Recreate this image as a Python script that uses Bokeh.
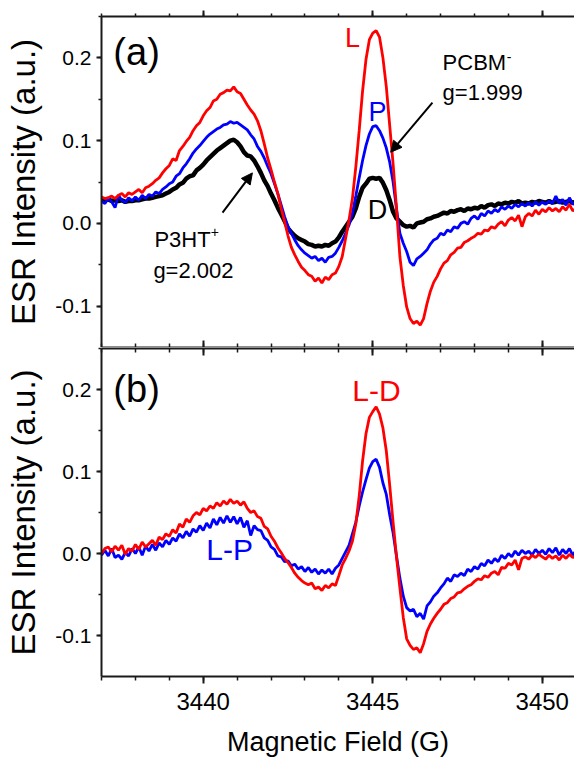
import numpy as np
from bokeh.plotting import figure
from bokeh.models import (Range1d, LinearAxis, SingleIntervalTicker, NumeralTickFormatter,
                          Label, Arrow, NormalHead)
from bokeh.layouts import column
from bokeh.embed import file_html
from bokeh.resources import INLINE

# ---------------- data ----------------
# magnetic field grid, 3437.0 ... 3451.0 G in 0.1 G steps
field = np.round(np.linspace(3437.0, 3451.0, 141), 1)

# panel (a): L (red), P (blue), D (black)
sig_L = [
    0.032, 0.030, 0.031, 0.033, 0.030, 0.034, 0.036, 0.032, 0.037, 0.035,
    0.038, 0.041, 0.037, 0.043, 0.045, 0.048, 0.052, 0.055, 0.061, 0.066,
    0.070, 0.078, 0.076, 0.088, 0.093, 0.099, 0.104, 0.112, 0.118, 0.122,
    0.130, 0.136, 0.140, 0.148, 0.150, 0.156, 0.158, 0.161, 0.160, 0.165,
    0.159, 0.157, 0.150, 0.143, 0.137, 0.132, 0.124, 0.112, 0.096, 0.079,
    0.065, 0.050, 0.036, 0.018, 0.002, -0.015, -0.029, -0.038, -0.046, -0.053,
    -0.057, -0.062, -0.064, -0.070, -0.066, -0.072, -0.065, -0.068, -0.062, -0.060,
    -0.052, -0.040, -0.018, 0.004, 0.030, 0.068, 0.112, 0.160, 0.198, 0.222,
    0.230, 0.233, 0.225, 0.200, 0.165, 0.118, 0.072, 0.018, -0.040, -0.075,
    -0.101, -0.115, -0.121, -0.118, -0.123, -0.115, -0.097, -0.082, -0.071, -0.064,
    -0.055, -0.048, -0.045, -0.038, -0.035, -0.030, -0.029, -0.023, -0.021, -0.018,
    -0.016, -0.012, -0.013, -0.008, -0.009, -0.004, -0.006, -0.001, 0.002, -0.003,
    0.004, 0.007, 0.003, 0.010, -0.004, 0.008, 0.012, 0.009, 0.016, 0.011,
    0.017, 0.014, 0.019, 0.015, 0.018, 0.014, 0.020, 0.016, 0.023, 0.015,
    0.018,
]
sig_P = [
    0.027, 0.024, 0.030, 0.026, 0.019, 0.034, 0.028, 0.025, 0.031, 0.027,
    0.032, 0.028, 0.034, 0.030, 0.035, 0.033, 0.038, 0.036, 0.041, 0.044,
    0.048, 0.050, 0.057, 0.060, 0.067, 0.072, 0.078, 0.085, 0.090, 0.094,
    0.099, 0.104, 0.108, 0.111, 0.114, 0.116, 0.119, 0.120, 0.123, 0.121,
    0.122, 0.119, 0.116, 0.113, 0.107, 0.102, 0.093, 0.087, 0.079, 0.069,
    0.060, 0.048, 0.036, 0.022, 0.008, -0.004, -0.012, -0.020, -0.027, -0.032,
    -0.036, -0.039, -0.042, -0.040, -0.045, -0.042, -0.047, -0.041, -0.040, -0.036,
    -0.029, -0.021, -0.012, -0.002, 0.012, 0.033, 0.055, 0.076, 0.094, 0.108,
    0.117, 0.118, 0.112, 0.103, 0.091, 0.074, 0.050, 0.018, -0.012, -0.024,
    -0.034, -0.047, -0.051, -0.043, -0.040, -0.036, -0.032, -0.025, -0.020, -0.018,
    -0.012, -0.014, -0.008, -0.010, -0.004, -0.006, 0.000, 0.002, -0.001, 0.006,
    0.009, 0.005, 0.012, 0.009, 0.015, 0.012, 0.017, 0.014, 0.020, 0.017,
    0.021, 0.018, 0.023, 0.020, 0.024, 0.021, 0.025, 0.021, 0.026, 0.022,
    0.026, 0.023, 0.027, 0.024, 0.033, 0.024, 0.029, 0.022, 0.031, 0.023,
    0.026,
]
sig_D = [
    0.029, 0.028, 0.029, 0.027, 0.028, 0.027, 0.028, 0.026, 0.027, 0.027,
    0.028, 0.028, 0.029, 0.030, 0.030, 0.031, 0.032, 0.033, 0.034, 0.036,
    0.038, 0.041, 0.043, 0.047, 0.049, 0.054, 0.057, 0.058, 0.064, 0.067,
    0.071, 0.076, 0.080, 0.084, 0.088, 0.091, 0.094, 0.097, 0.100, 0.101,
    0.098, 0.093, 0.086, 0.082, 0.081, 0.076, 0.069, 0.061, 0.052, 0.045,
    0.036, 0.028, 0.019, 0.011, 0.003, -0.006, -0.011, -0.015, -0.018, -0.020,
    -0.022, -0.025, -0.026, -0.028, -0.027, -0.028, -0.026, -0.027, -0.024, -0.022,
    -0.017, -0.010, -0.004, 0.002, 0.008, 0.018, 0.032, 0.043, 0.048, 0.054,
    0.055, 0.054, 0.055, 0.049, 0.040, 0.028, 0.014, 0.006, 0.002, -0.002,
    -0.004, -0.003, -0.005, 0.000, 0.001, 0.002, 0.005, 0.006, 0.008, 0.009,
    0.011, 0.013, 0.012, 0.015, 0.014, 0.016, 0.017, 0.015, 0.018, 0.017,
    0.019, 0.018, 0.021, 0.019, 0.022, 0.023, 0.021, 0.024, 0.023, 0.025,
    0.024, 0.026, 0.025, 0.027, 0.024, 0.025, 0.024, 0.026, 0.025, 0.027,
    0.026, 0.025, 0.027, 0.025, 0.026, 0.027, 0.025, 0.026, 0.027, 0.025,
    0.026,
]

# panel (b): L-D (red), L-P (blue)
sig_LD = [
    0.000, 0.006, 0.008, 0.002, 0.009, 0.004, 0.010, -0.001, 0.006, 0.003,
    0.011, 0.005, 0.014, 0.008, 0.012, 0.016, 0.010, 0.020, 0.017, 0.024,
    0.021, 0.029, 0.025, 0.036, 0.032, 0.042, 0.038, 0.046, 0.050, 0.047,
    0.055, 0.052, 0.058, 0.055, 0.062, 0.058, 0.064, 0.060, 0.066, 0.061,
    0.064, 0.059, 0.063, 0.055, 0.050, 0.052, 0.045, 0.043, 0.033, 0.030,
    0.021, 0.015, 0.007, 0.001, -0.006, -0.011, -0.017, -0.024, -0.029, -0.033,
    -0.036, -0.038, -0.036, -0.043, -0.041, -0.045, -0.039, -0.042, -0.037, -0.039,
    -0.027, -0.014, -0.006, 0.003, 0.015, 0.036, 0.070, 0.113, 0.146, 0.166,
    0.173, 0.179, 0.170, 0.153, 0.125, 0.083, 0.038, -0.004, -0.042, -0.078,
    -0.104, -0.112, -0.117, -0.115, -0.121, -0.110, -0.095, -0.086, -0.079, -0.073,
    -0.068, -0.062, -0.060, -0.055, -0.053, -0.048, -0.047, -0.043, -0.040, -0.038,
    -0.034, -0.031, -0.032, -0.027, -0.029, -0.024, -0.022, -0.026, -0.017, -0.018,
    -0.012, -0.014, -0.008, -0.020, -0.006, -0.004, -0.007, -0.002, -0.005, -0.001,
    -0.004, -0.007, -0.002, -0.006, -0.003, -0.008, -0.002, -0.006, -0.001, -0.005,
    -0.003,
]
sig_LP = [
    -0.002, 0.004, -0.003, 0.006, -0.005, -0.002, -0.007, 0.001, -0.003, 0.006,
    0.000, 0.008, -0.002, 0.009, 0.003, 0.011, 0.004, 0.013, 0.008, 0.016,
    0.011, 0.019, 0.015, 0.024, 0.019, 0.027, 0.021, 0.030, 0.026, 0.034,
    0.028, 0.037, 0.031, 0.042, 0.035, 0.044, 0.037, 0.046, 0.038, 0.045,
    0.036, 0.044, 0.032, 0.040, 0.022, 0.034, 0.029, 0.028, 0.019, 0.016,
    0.008, 0.005, -0.003, -0.004, -0.010, -0.009, -0.015, -0.013, -0.019, -0.016,
    -0.022, -0.017, -0.023, -0.019, -0.025, -0.020, -0.024, -0.019, -0.025, -0.018,
    -0.014, -0.006, 0.002, 0.010, 0.024, 0.038, 0.058, 0.075, 0.090, 0.104,
    0.112, 0.115, 0.105, 0.086, 0.072, 0.047, 0.025, -0.003, -0.030, -0.052,
    -0.066, -0.070, -0.068, -0.077, -0.073, -0.080, -0.064, -0.059, -0.052, -0.048,
    -0.042, -0.037, -0.030, -0.034, -0.026, -0.028, -0.024, -0.027, -0.019, -0.022,
    -0.016, -0.019, -0.012, -0.015, -0.008, -0.012, -0.006, -0.010, -0.002, -0.006,
    0.000, -0.004, 0.003, -0.002, 0.004, 0.000, 0.003, -0.002, 0.005, 0.000,
    0.004, -0.001, 0.006, 0.001, 0.007, -0.002, 0.005, 0.000, 0.006, -0.002,
    0.004,
]

x_ticks_interval = 5
y_ticks_interval = 0.1
x_label = "Magnetic Field (G)"
y_label = "ESR Intensity (a.u.)"

FONT = "Liberation Sans"
AX = "#1a1a1a"


def x_axis(tick_in, tick_out, minor_in, minor_out, show_labels):
    ax = LinearAxis(ticker=SingleIntervalTicker(interval=x_ticks_interval, num_minor_ticks=5),
                    formatter=NumeralTickFormatter(format="0"),
                    axis_line_width=2, axis_line_color=AX,
                    major_tick_line_width=2, major_tick_line_color=AX,
                    minor_tick_line_width=1.5, minor_tick_line_color=AX,
                    major_tick_in=tick_in, major_tick_out=tick_out,
                    minor_tick_in=minor_in, minor_tick_out=minor_out)
    if show_labels:
        ax.major_label_text_font = FONT
        ax.major_label_text_font_size = "24px"
        ax.major_label_text_color = "black"
        ax.major_label_standoff = 9
        ax.axis_label = x_label
        ax.axis_label_text_font = FONT
        ax.axis_label_text_font_size = "27px"
        ax.axis_label_text_font_style = "normal"
        ax.axis_label_text_color = "black"
        ax.axis_label_standoff = 14
    else:
        # tick marks only: labels are not painted
        ax.major_label_text_font_size = "1px"
        ax.major_label_text_color = None
        ax.major_label_standoff = 0
    return ax


def y_axis():
    ax = LinearAxis(ticker=SingleIntervalTicker(interval=y_ticks_interval, num_minor_ticks=2),
                    formatter=NumeralTickFormatter(format="0.0"),
                    axis_line_width=2, axis_line_color=AX,
                    major_tick_line_width=2, major_tick_line_color=AX,
                    minor_tick_line_width=1.5, minor_tick_line_color=AX,
                    major_tick_in=0, major_tick_out=5, minor_tick_in=0, minor_tick_out=3,
                    major_label_text_font=FONT, major_label_text_font_size="21px",
                    major_label_text_color="black", major_label_standoff=5,
                    axis_label=y_label, axis_label_text_font=FONT,
                    axis_label_text_font_size="33px", axis_label_text_font_style="normal",
                    axis_label_text_color="black", axis_label_standoff=10)
    return ax


def make_fig(height, top, bottom):
    p = figure(width=574, height=height,
               x_range=Range1d(3437.0, 3450.95), y_range=Range1d(-0.15, 0.25),
               output_backend="svg", toolbar_location=None,
               x_axis_location=None, y_axis_location=None,
               min_border_left=101, min_border_right=0,
               min_border_top=top, min_border_bottom=bottom)
    p.grid.grid_line_color = None
    p.outline_line_color = None
    p.background_fill_color = "white"
    p.border_fill_color = "white"
    p.add_layout(y_axis(), "left")
    return p


def add_label(p, x, y, text, size, color="black", align="left"):
    p.add_layout(Label(x=x, y=y, text=text, text_font=FONT, text_font_size=size,
                       text_color=color, text_align=align, text_baseline="middle"))


# ---------------- panel (a) ----------------
p1 = make_fig(347, 16, 0)
p1.add_layout(x_axis(0, 6, 0, 3, False), "above")
p1.add_layout(x_axis(7, 0, 4, 0, False), "below")

p1.line(field, sig_D, line_color="black", line_width=4.5)
p1.line(field, sig_P, line_color="#0000FF", line_width=2.8)
p1.line(field, sig_L, line_color="#FF0000", line_width=2.8)

add_label(p1, 3437.35, 0.207, "(a)", "38px")
add_label(p1, 3444.40, 0.224, "L", "27px", "#FF0000", "center")
add_label(p1, 3445.14, 0.135, "P", "27px", "#0000FF", "center")
add_label(p1, 3445.14, 0.016, "D", "27px", "black", "center")
add_label(p1, 3447.06, 0.194, "PCBM", "22px")
add_label(p1, 3448.95, 0.201, "-", "14px")
add_label(p1, 3447.06, 0.158, "g=1.999", "22px")
add_label(p1, 3438.56, -0.019, "P3HT", "22px")
add_label(p1, 3440.22, -0.010, "+", "14px")
add_label(p1, 3438.53, -0.057, "g=2.002", "22px")

p1.add_layout(Arrow(x_start=3446.76, y_start=0.146, x_end=3445.53, y_end=0.086,
                    line_width=2, line_color="black",
                    end=NormalHead(size=11, fill_color="black", line_color="black")))
p1.add_layout(Arrow(x_start=3440.57, y_start=0.013, x_end=3441.45, y_end=0.061,
                    line_width=2, line_color="black",
                    end=NormalHead(size=11, fill_color="black", line_color="black")))

# ---------------- panel (b) ----------------
p2 = make_fig(412, 1, 82)
p2.add_layout(x_axis(7, 0, 4, 0, False), "above")
p2.add_layout(x_axis(0, 7, 0, 4, True), "below")

p2.line(field, sig_LP, line_color="#0000FF", line_width=2.8)
p2.line(field, sig_LD, line_color="#FF0000", line_width=2.8)

add_label(p2, 3437.35, 0.201, "(b)", "38px")
add_label(p2, 3445.11, 0.199, "L-D", "30px", "#FF0000", "center")
add_label(p2, 3440.78, 0.005, "L-P", "30px", "#0000FF", "center")

layout = column(p1, p2)
open("out.html", "w").write(file_html(layout, INLINE))
